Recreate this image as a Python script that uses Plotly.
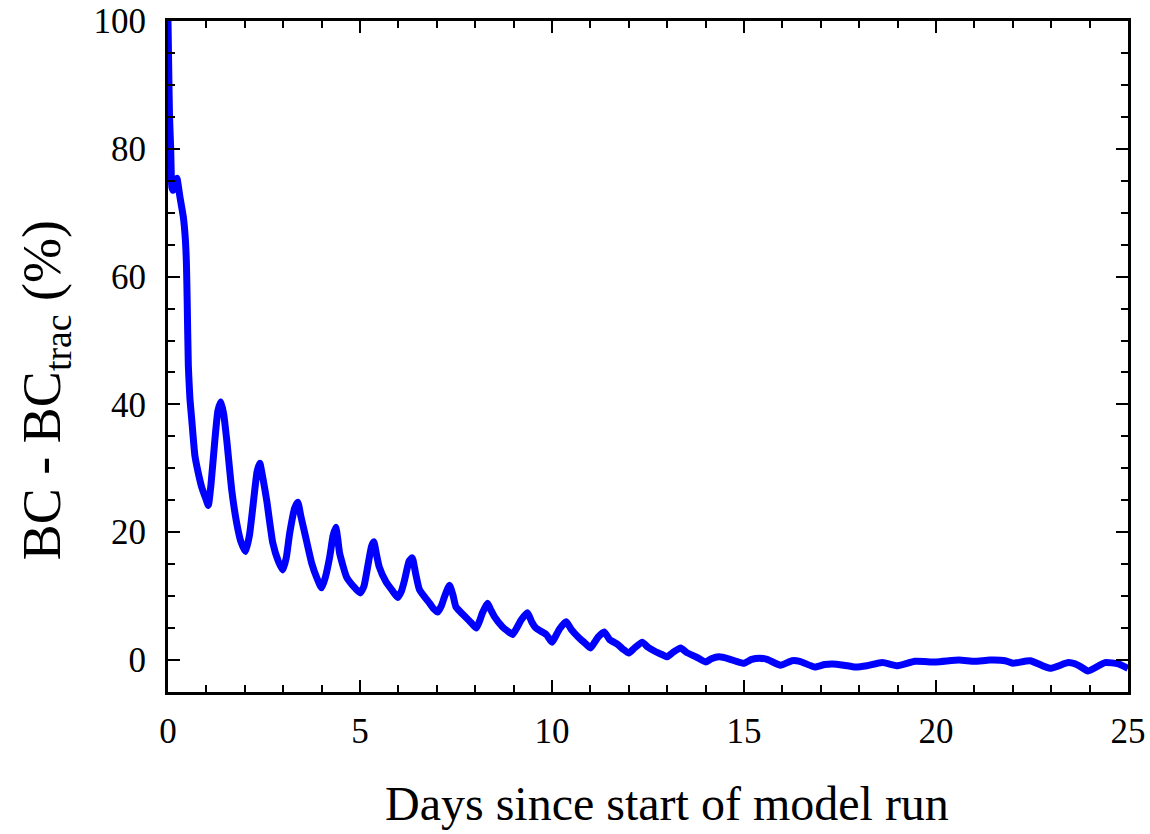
import plotly.graph_objects as go

days = [0.00, 0.02, 0.04, 0.07, 0.10, 0.13, 0.17, 0.23, 0.31, 0.40, 0.45, 0.48, 0.50, 0.53,
        0.57, 0.62, 0.70, 0.78, 0.88, 1.00, 1.05, 1.12, 1.22, 1.30, 1.38, 1.45, 1.53, 1.66,
        1.79, 1.90, 2.02, 2.12, 2.22, 2.32, 2.39, 2.47, 2.57, 2.73, 2.87, 2.99, 3.08, 3.17,
        3.30, 3.38, 3.46, 3.56, 3.74, 3.88, 4.00, 4.10, 4.21, 4.30, 4.37, 4.42, 4.47, 4.65,
        4.82, 5.00, 5.10, 5.20, 5.30, 5.36, 5.43, 5.50, 5.68, 5.85, 5.98, 6.08, 6.16, 6.28,
        6.36, 6.45, 6.55, 6.81, 6.92, 7.02, 7.12, 7.20, 7.33, 7.42, 7.50, 7.77, 7.90, 8.03,
        8.12, 8.19, 8.32, 8.41, 8.50, 8.71, 8.85, 8.97, 9.08, 9.20, 9.36, 9.47, 9.58, 9.85,
        10.0, 10.1, 10.2, 10.37, 10.5, 10.7, 10.85, 11.0, 11.1, 11.2, 11.36, 11.5, 11.7,
        11.85, 12.0, 12.15, 12.35, 12.5, 12.7, 12.85, 13.0, 13.15, 13.35, 13.5, 13.75, 14.0,
        14.15, 14.35, 14.6, 14.8, 15.0, 15.2, 15.4, 15.6, 15.95, 16.25, 16.45, 16.85, 17.1,
        17.3, 17.6, 17.9, 18.2, 18.6, 19.0, 19.45, 20.0, 20.6, 21.0, 21.4, 21.8, 22.0,
        22.45, 22.97, 23.45, 23.7, 23.96, 24.4, 24.75, 25.0]

bc_diff = [100, 92, 85, 80, 74, 73.5, 74.5, 75.4, 72.5, 69.3, 66, 62, 56, 46,
           41, 37.5, 32, 29.5, 27, 25, 24.2, 27.5, 34.4, 39, 40.4, 38.5, 34.4, 26.6,
           21.4, 18.5, 17.0, 19.5, 24.5, 29.5, 30.8, 28.5, 25, 18.3, 15.5, 14.1, 16, 19.9,
           23.8, 24.7, 22.5, 19.9, 15.2, 12.8, 11.3, 13, 16.1, 19.5, 20.8, 19, 16.7, 13.0,
           11.6, 10.5, 11.5, 14.6, 17.8, 18.5, 16.5, 14.6, 12.2, 10.8, 9.8, 10.8, 12.5, 15.5,
           16.0, 13.5, 11.0, 8.9, 8.0, 7.5, 8.5, 9.9, 11.7, 10.2, 8.3, 6.6, 5.8, 5.0,
           6.2, 7.4, 8.9, 7.8, 6.8, 5.2, 4.5, 4.0, 5.0, 6.3, 7.4, 6.0, 5.0, 4.0,
           2.8, 3.8, 4.9, 6.0, 4.8, 3.5, 2.7, 1.9, 2.7, 3.6, 4.4, 3.2, 2.5,
           1.7, 1.1, 1.9, 2.8, 2.0, 1.3, 0.9, 0.5, 1.2, 1.9, 1.2, 0.5, -0.3,
           0.2, 0.5, 0.2, -0.2, -0.5, 0.1, 0.3, 0.1, -0.8, -0.1, -0.2, -1.1, -0.7,
           -0.6, -0.8, -1.1, -0.9, -0.4, -0.9, -0.2, -0.3, 0.0, -0.2, 0.0, -0.1, -0.5,
           -0.1, -1.3, -0.4, -0.8, -1.7, -0.4, -0.6, -1.3]

x_ticks = [0, 5, 10, 15, 20, 25]
y_ticks = [0, 20, 40, 60, 80, 100]
x_title = "Days since start of model run"
y_title = "BC - BC<sub>trac</sub> (%)"

FONT = "Liberation Serif"

fig = go.Figure()
fig.add_trace(go.Scatter(x=days, y=bc_diff, mode="lines",
                         line=dict(color="#0000ff", width=7, shape="spline", smoothing=0.5),
                         showlegend=False))

axis_common = dict(
    showgrid=False, zeroline=False, showline=True, linecolor="black", linewidth=3,
    mirror="ticks", ticks="inside", tickcolor="black", tickwidth=2, ticklen=12,
    tickfont=dict(family=FONT, size=35, color="black"),
    ticklabeloverflow="allow", automargin=False,
)

fig.update_xaxes(
    range=[0, 25], tickvals=x_ticks, ticktext=[str(v) for v in x_ticks],
    minor=dict(dtick=1, ticks="inside", ticklen=7, tickwidth=2, tickcolor="black"),
    ticklabelstandoff=6,
    **axis_common,
)
fig.update_yaxes(
    range=[-5, 100], tickvals=y_ticks, ticktext=[str(v) for v in y_ticks],
    minor=dict(dtick=5, tick0=0, ticks="inside", ticklen=7, tickwidth=2, tickcolor="black"),
    ticklabelstandoff=12,
    **axis_common,
)

fig.add_annotation(text=x_title, xref="paper", yref="paper", x=0.52, y=-0.166,
                   xanchor="center", yanchor="middle", showarrow=False,
                   font=dict(family=FONT, size=48, color="black"))
fig.add_annotation(text=y_title, xref="paper", yref="paper", x=-0.128, y=0.45,
                   xanchor="center", yanchor="middle", showarrow=False, textangle=-90,
                   font=dict(family=FONT, size=54, color="black"))

fig.update_layout(
    width=1150, height=834,
    margin=dict(l=168, r=22, t=21, b=142, autoexpand=False),
    paper_bgcolor="white", plot_bgcolor="white",
    font=dict(family=FONT, color="black"),
)

fig.write_html("out.html")
